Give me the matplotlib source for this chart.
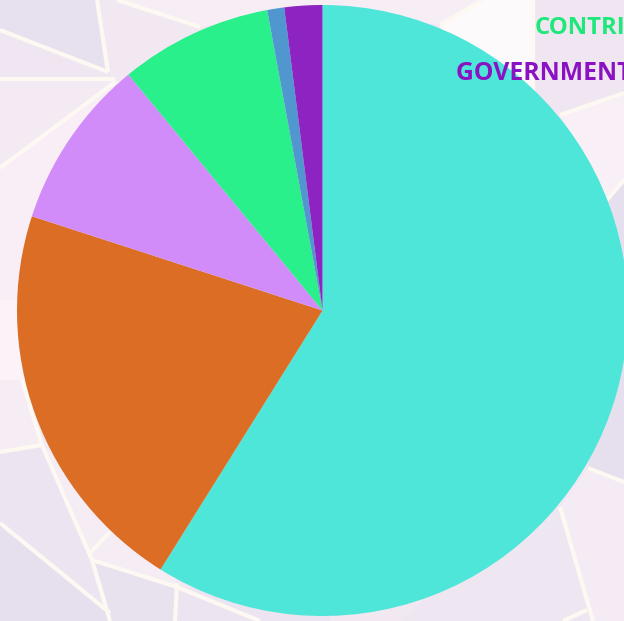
import matplotlib
matplotlib.use("Agg")
import matplotlib.pyplot as plt
from matplotlib.patches import Polygon
from matplotlib.lines import Line2D

# ---- data ----
categories = ["PROGRAM SERVICES", "FUNDRAISING EVENTS", "INVESTMENT INCOME",
              "CONTRIBUTIONS", "OTHER", "GOVERNMENT GRANTS"]
values = [58.9, 21.1, 9.05, 8.06, 0.9, 2.0]
colors = ["#4de6d8", "#db6d25", "#d18cfa", "#29f08a", "#5097d0", "#8d23c0"]
shown_labels = ["CONTRIBUTIONS", "GOVERNMENT GRANTS"]
label_colors = ["#1ee87a", "#8a12c2"]

W, H = 624, 621
fig = plt.figure(figsize=(W / 100, H / 100), dpi=100)
fig.patch.set_facecolor("#f1e8f2")
ax = fig.add_axes([0, 0, 1, 1])
ax.set_facecolor("#f1e8f2")

# ---- decorative low-poly background (pixel coords, y down) ----
bg_polys = [
    ([(0, 0), (97, 0), (108, 72), (0, 30)], "#e6e0ef"),
    ([(0, 30), (108, 72), (115, 79), (0, 79)], "#efe6f1"),
    ([(0, 79), (115, 79), (0, 168)], "#f3eaf3"),
    ([(0, 168), (115, 79), (200, 150), (30, 330), (0, 330)], "#f9eef5"),
    ([(0, 300), (40, 300), (40, 380), (0, 380)], "#fbf3f8"),
    ([(97, 0), (117, 0), (200, 27), (115, 79), (108, 72)], "#f1e8f2"),
    ([(117, 0), (483, 0), (440, 25), (300, 10), (200, 27)], "#f7edf5"),
    ([(440, 25), (483, 0), (533, 0), (533, 115), (470, 110)], "#fdfafc"),
    ([(533, 0), (624, 0), (624, 93), (560, 115), (533, 115)], "#f0e6f1"),
    ([(560, 115), (624, 93), (624, 180), (607, 200)], "#f9eff6"),
    ([(607, 200), (624, 180), (624, 482), (588, 468)], "#e5dfee"),
    ([(588, 468), (624, 482), (624, 621), (593, 621), (560, 507)], "#f5ebf4"),
    ([(560, 507), (593, 621), (400, 621), (470, 560)], "#eee6f1"),
    ([(0, 380), (22, 380), (42, 445), (0, 452)], "#f6ecf4"),
    ([(0, 452), (42, 445), (92, 560), (110, 613), (0, 523)], "#ede4f1"),
    ([(0, 523), (110, 613), (110, 621), (0, 621)], "#e6e0ee"),
    ([(92, 560), (177, 587), (175, 621), (110, 621)], "#e8e2ef"),
    ([(42, 445), (160, 520), (177, 587), (92, 560)], "#f5ecf4"),
    ([(177, 587), (330, 600), (330, 621), (175, 621)], "#ece4f0"),
]
bg_lines = [
    [(0, 30), (108, 72)], [(97, 0), (108, 72)], [(0, 79), (115, 79)],
    [(115, 82), (0, 168)], [(117, 0), (200, 27)],
    [(440, 25), (483, 0)], [(533, 0), (533, 115)], [(560, 115), (624, 93)],
    [(607, 200), (624, 180)], [(588, 468), (624, 482)], [(560, 507), (593, 621)],
    [(587, 610), (563, 621)], [(0, 452), (42, 445)],
    [(22, 380), (42, 445), (92, 560), (110, 621)], [(0, 523), (110, 613)],
    [(92, 560), (177, 587), (260, 621)], [(90, 553), (110, 532)],
    [(177, 583), (175, 621)],
]

def flip(pts):
    return [(x, H - y) for x, y in pts]

for pts, c in bg_polys:
    ax.add_patch(Polygon(flip(pts), closed=True, facecolor=c, edgecolor="none", zorder=0))
for pts in bg_lines:
    fp = flip(pts)
    ax.add_line(Line2D([p[0] for p in fp], [p[1] for p in fp], color="#fdf8f2",
                       linewidth=3.0, solid_capstyle="butt", zorder=0.5))

# ---- pie ----
ax.pie(values, colors=colors, startangle=90, counterclock=False,
       center=(322.5, H - 310.5), radius=305.5,
       wedgeprops=dict(linewidth=0, zorder=1))
ax.set_xlim(0, W)
ax.set_ylim(0, H)
ax.set_aspect("auto")
ax.axis("off")

# ---- labels (size fitted so a known prefix spans the reference width) ----
label_pos = [(535, 34), (456, 80)]
fit_prefix = ["CONTR", "GOVERNMEN"]
fit_width = [83, 161]
renderer = fig.canvas.get_renderer()
for txt, col, (px, py), pre, tw in zip(shown_labels, label_colors, label_pos,
                                        fit_prefix, fit_width):
    probe = fig.text(0, 0, pre, fontsize=17, fontweight="bold", family="Open Sans")
    w = probe.get_window_extent(renderer).width
    probe.remove()
    fs = 17 * tw / w
    fig.text(px / W, 1 - py / H, txt, color=col, fontsize=fs, fontweight="bold",
             family="Open Sans", ha="left", va="baseline", zorder=5)

fig.savefig("out.png", dpi=100, facecolor=fig.get_facecolor())
